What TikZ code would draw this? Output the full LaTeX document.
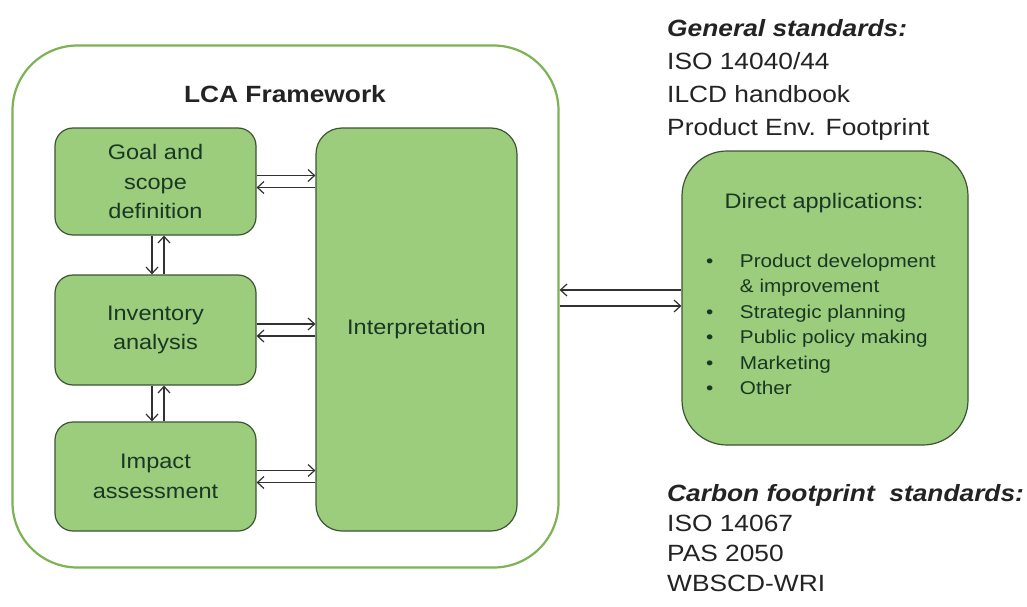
\documentclass[tikz,border=0pt]{standalone}
\usepackage{fontspec}
\setmainfont{Liberation Sans}[FakeStretch=1.12]
\usetikzlibrary{arrows.meta,calc}
\definecolor{boxfill}{RGB}{155,205,125}
\definecolor{boxline}{RGB}{60,85,50}
\definecolor{framegreen}{RGB}{125,178,85}
\definecolor{boxtext}{RGB}{25,55,35}
\definecolor{arrowc}{RGB}{50,50,50}
\definecolor{titlec}{RGB}{35,35,35}
\begin{document}
\begin{tikzpicture}[x=1pt,y=-1pt,
  box/.style={draw=boxline, line width=1.2pt, fill=boxfill, rounded corners=18pt,
    inner sep=0pt, align=center, text=boxtext, font=\fontsize{21}{29.5}\selectfont},
  frame/.style={draw=framegreen, line width=2.2pt, rounded corners=65pt, inner sep=0pt},
  arr/.style={draw=arrowc, line width=1.2pt, -{Straight Barb[length=6.5pt,width=12pt,line width=1.2pt]}},
  std/.style={anchor=north west, inner sep=0pt, align=left, text=titlec}
]
\useasboundingbox (0,0) rectangle (1027,607);
\fill[white] (0,0) rectangle (1027,607);

% outer frame
\node[frame, minimum width=546pt, minimum height=522pt] (frame) at (285.5,306.5) {};
\node[font=\bfseries\fontsize{23.5}{28}\selectfont, text=titlec] (title) at (285,94) {LCA Framework};

% left boxes
\node[box, minimum width=201pt, minimum height=107pt] (goal) at (155.5,181.5) {Goal and\\scope\\definition};
\node[box, minimum width=201pt, minimum height=110pt] (inv) at (155.5,330) {Inventory\\analysis};
\node[box, minimum width=201pt, minimum height=109pt] (imp) at (155.5,476.5) {Impact\\assessment};
\node[box, rounded corners=26pt, minimum width=201pt, minimum height=403pt] (interp) at (416.5,329.5) {Interpretation};

% horizontal arrows
\foreach \b in {goal,inv,imp}{
  \draw[arr] ([yshift=6pt]\b.east) -- ([yshift=6pt]\b.east -| interp.west);
  \draw[arr] ([yshift=-6pt]\b.east -| interp.west) -- ([yshift=-6pt]\b.east);
}
% vertical arrows
\draw[arr] ([xshift=-3.5pt]goal.south) -- ([xshift=-3.5pt]goal.south |- inv.north);
\draw[arr] ([xshift=8.5pt]goal.south |- inv.north) -- ([xshift=8.5pt]goal.south);
\draw[arr] ([xshift=-3.5pt]inv.south) -- ([xshift=-3.5pt]inv.south |- imp.north);
\draw[arr] ([xshift=8.5pt]inv.south |- imp.north) -- ([xshift=8.5pt]inv.south);

% direct applications
\node[box, rounded corners=45pt, minimum width=286pt, minimum height=294pt] (da) at (825,298) {};
\node[text=boxtext, font=\fontsize{21}{26}\selectfont] (datitle) at (824,203) {Direct applications:};
\node[anchor=north west, inner sep=0pt, text=boxtext, font=\fontsize{18.5}{25.5}\selectfont] (dalist) at (706,249) {%
  \begin{tabular}{@{}l@{\hspace{26.5pt}}l@{}}
  • & Product development\\
    & \& improvement\\
  • & Strategic planning\\
  • & Public policy making\\
  • & Marketing\\
  • & Other
  \end{tabular}};
\draw[arr] ([yshift=8pt]da.west) -- ([yshift=8pt]da.west -| frame.east);
\draw[arr] ([yshift=-8pt]da.west -| frame.east) -- ([yshift=-8pt]da.west);

% standards
\node[std, font=\fontsize{23.5}{33}\selectfont] (gen) at (667,19) {{\bfseries\itshape General standards:}\\ISO 14040/44\\ILCD handbook\\Product Env. Footprint};
\node[std, font=\fontsize{23.5}{30}\selectfont] (carb) at (667,484) {{\bfseries\itshape Carbon footprint~ standards:}\\ISO 14067\\PAS 2050\\WBSCD-WRI};
\end{tikzpicture}
\end{document}
